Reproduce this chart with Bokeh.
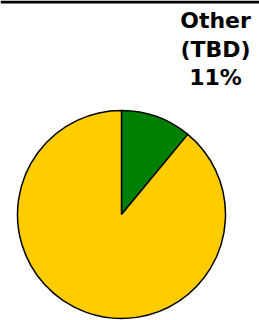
import math
from bokeh.plotting import figure
from bokeh.models import Range1d, Label, Span, ColumnDataSource
from bokeh.embed import file_html
from bokeh.resources import INLINE

categories = ["Other (TBD)", "Main"]
shares = [11, 89]
colors = ["#008000", "#FFCC00"]
label_lines = ["Other", "(TBD)", "11%"]

# compute wedges clockwise starting at 12 o'clock
total = sum(shares)
starts, ends = [], []
cur = math.pi / 2
for s in shares:
    sweep = 2 * math.pi * s / total
    ends.append(cur)
    starts.append(cur - sweep)
    cur -= sweep

src = ColumnDataSource(dict(cat=categories, start=starts, end=ends, color=colors))

W, H = 259, 320
cx, cy = 121, 214
p = figure(width=W, height=H, output_backend="svg", toolbar_location=None,
           x_range=Range1d(-cx, W - cx), y_range=Range1d(-(H - cy), cy),
           min_border=0)
p.axis.visible = False
p.grid.visible = False
p.outline_line_color = None

p.wedge(x=0, y=0, radius=104, start_angle="start", end_angle="end",
        fill_color="color", line_color="black", line_width=1.5, source=src)

p.add_layout(Span(location=cy - 1.5, dimension="width", line_color="black", line_width=3))

ys = [194, 165, 137]
for t, yy in zip(label_lines, ys):
    p.add_layout(Label(x=94, y=yy, text=t, text_align="center", text_baseline="alphabetic",
                       text_font="DejaVu Sans", text_font_style="bold",
                       text_font_size="22px", text_color="black"))

open("out.html", "w").write(file_html(p, INLINE))
